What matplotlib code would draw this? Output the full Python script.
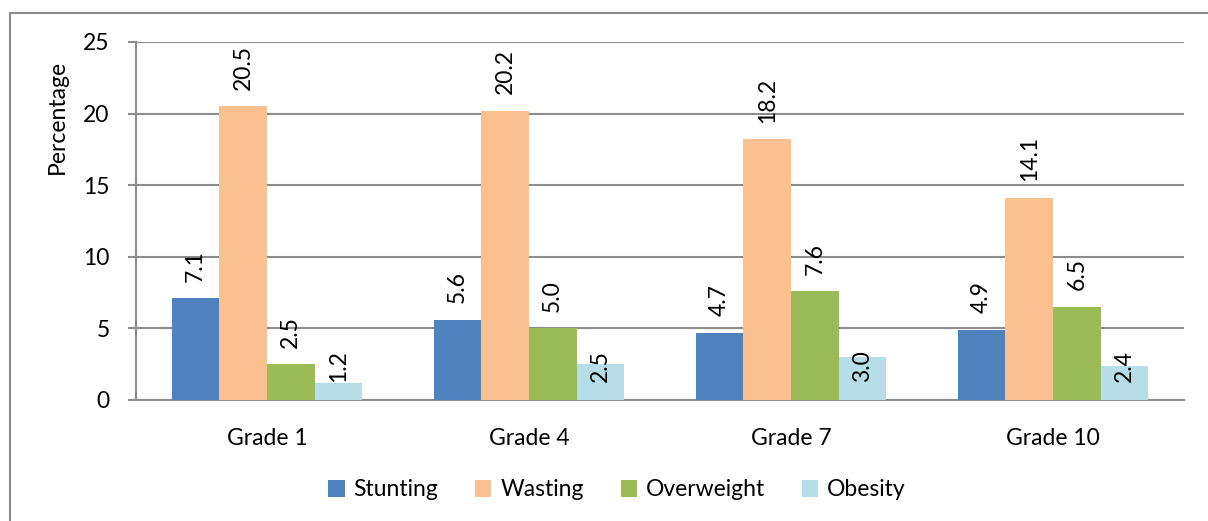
import matplotlib
matplotlib.use("Agg")
import matplotlib.pyplot as plt
from matplotlib.patches import Rectangle
import numpy as np

plt.rcParams['font.family'] = ['Lato', 'DejaVu Sans']

grades = ["Grade 1", "Grade 4", "Grade 7", "Grade 10"]
series_names = ["Stunting", "Wasting", "Overweight", "Obesity"]
stunting = [7.1, 5.6, 4.7, 4.9]
wasting = [20.5, 20.2, 18.2, 14.1]
overweight = [2.5, 5.0, 7.6, 6.5]
obesity = [1.2, 2.5, 3.0, 2.4]
yticks = [0, 5, 10, 15, 20, 25]

colors = ["#4F81BD", "#FAC090", "#9BBB59", "#B7DEE8"]
grid_color = "#8C8C8C"
FS = 16.5

fig = plt.figure(figsize=(12.08, 5.21), dpi=100)
ax = fig.add_axes([136 / 1208, 1 - 400 / 521, (1184 - 136) / 1208, (400 - 42) / 521])

# outer chart frame (open on the right and bottom edges of the canvas)
fig.patches.append(Rectangle((10 / 1208, -0.2), 1.5, (1 - 13 / 521) + 0.2,
                             transform=fig.transFigure, fill=False,
                             edgecolor=grid_color, linewidth=1.5))

x = np.arange(len(grades))
group_w = 0.726
bar_w = group_w / 4
all_series = [stunting, wasting, overweight, obesity]

for i, (vals, name, col) in enumerate(zip(all_series, series_names, colors)):
    pos = x - group_w / 2 + bar_w * (i + 0.5)
    ax.bar(pos, vals, width=bar_w, color=col, label=name, zorder=3, edgecolor="none")
    for p, v in zip(pos, vals):
        if name == "Obesity":
            ax.text(p, 2.37, f"{v:.1f}", rotation=90, ha="center", va="center",
                    fontsize=FS, zorder=4)
        else:
            ax.annotate(f"{v:.1f}", (p, v), xytext=(0, 12), textcoords="offset points",
                        rotation=90, ha="center", va="bottom", fontsize=FS, zorder=4)

ax.set_xlim(-0.5, len(grades) - 0.5)
ax.set_ylim(0, 25)
ax.set_yticks(yticks)
ax.set_yticklabels([str(t) for t in yticks])
ax.set_xticks(x)
ax.set_xticklabels(grades)
ax.yaxis.grid(True, color=grid_color, linewidth=1.5, zorder=0)
ax.set_axisbelow(True)

for s in ["top", "right"]:
    ax.spines[s].set_visible(False)
for s in ["left", "bottom"]:
    ax.spines[s].set_color(grid_color)
    ax.spines[s].set_linewidth(1.5)

ax.tick_params(axis="y", length=6, width=1.5, color=grid_color, pad=13, labelsize=FS)
ax.tick_params(axis="x", length=0, pad=20, labelsize=FS)

fig.text(57 / 1208, 1 - 117 / 521, "Percentage", rotation=90, ha="center", va="center",
         fontsize=FS)

handles, labels = ax.get_legend_handles_labels()
fig.legend(handles, labels, loc="center", bbox_to_anchor=(617 / 1208, 1 - 490 / 521),
           ncol=4, frameon=False, fontsize=FS, handlelength=0.7, handleheight=0.7,
           handletextpad=0.4, columnspacing=1.6)

fig.savefig("out.png", dpi=100)
